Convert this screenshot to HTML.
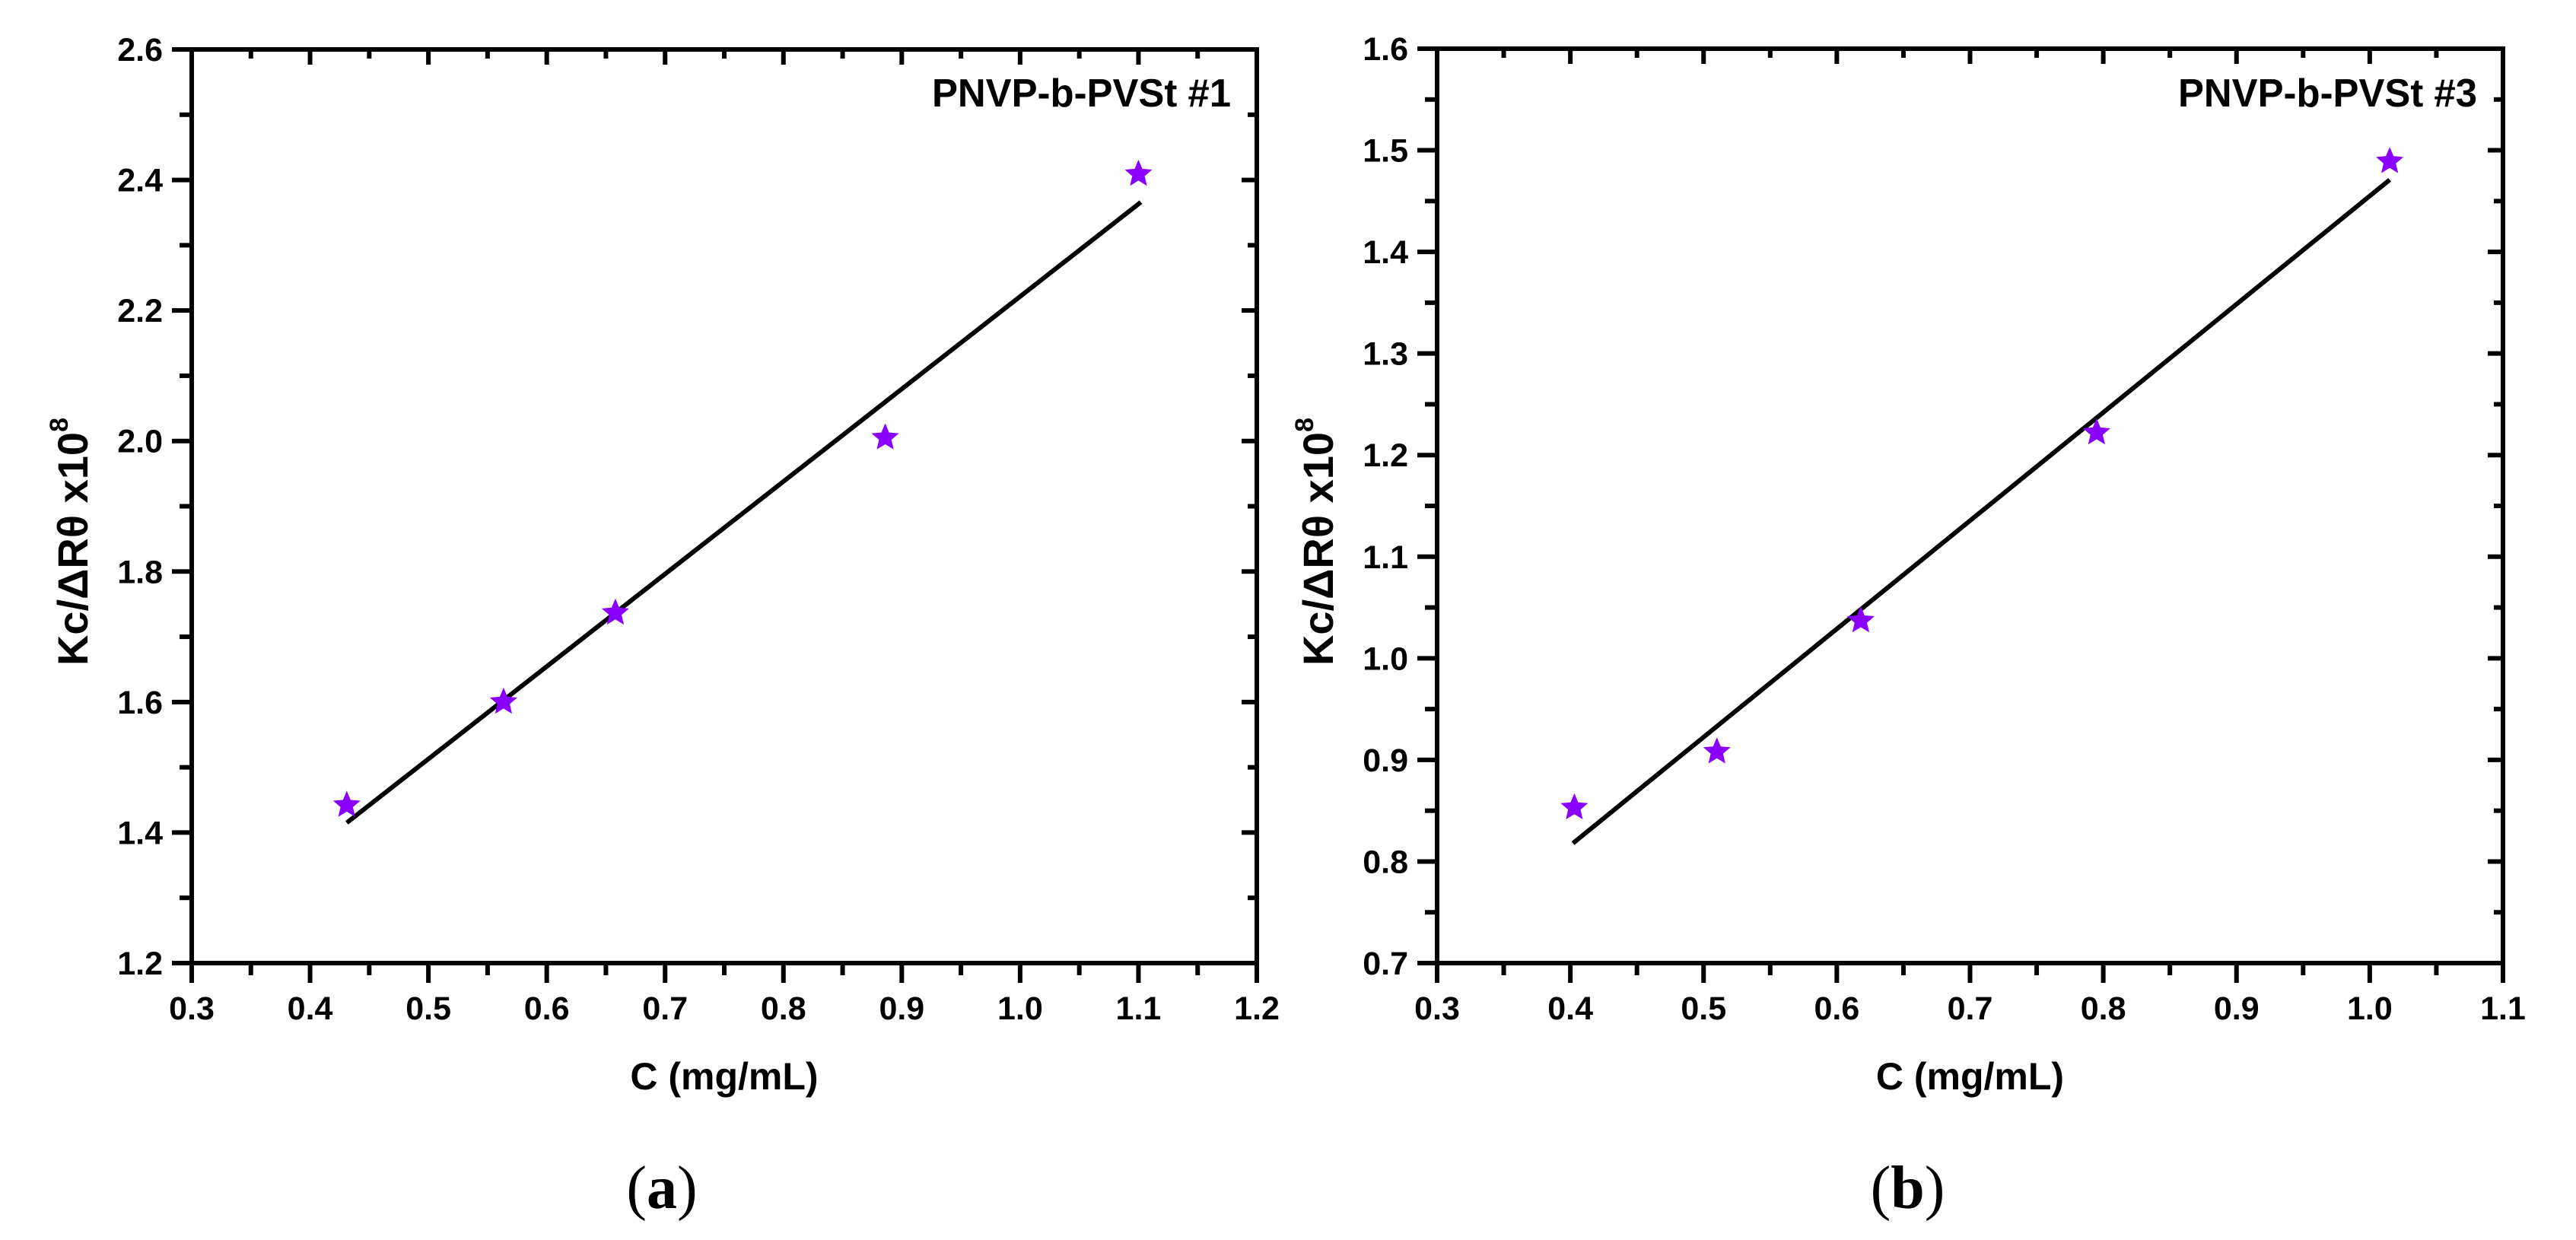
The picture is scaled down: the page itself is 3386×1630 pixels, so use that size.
<!DOCTYPE html>
<html><head><meta charset="utf-8"><style>
html,body{margin:0;padding:0;background:#fff;}
svg{display:block;}
</style></head><body>
<svg id="fig" width="3386" height="1630" viewBox="0 0 3386 1630" xmlns="http://www.w3.org/2000/svg" font-family="'Liberation Sans', Arial, sans-serif"></svg>
<script>
// Panel (a) data
const aX = [0.431, 0.5635, 0.658, 0.886, 1.100];
const aY = [1.442, 1.600, 1.7365, 2.005, 2.409];
const aFitX = [0.431, 1.102];
const aFitY = [1.415, 2.366];
const aXTicks = [0.3,0.4,0.5,0.6,0.7,0.8,0.9,1.0,1.1,1.2];
const aYTicks = [1.2,1.4,1.6,1.8,2.0,2.2,2.4,2.6];
// Panel (b) data
const bX = [0.403, 0.510, 0.618, 0.795, 1.015];
const bY = [0.853, 0.908, 1.037, 1.222, 1.489];
const bFitX = [0.402, 1.015];
const bFitY = [0.818, 1.471];
const bXTicks = [0.3,0.4,0.5,0.6,0.7,0.8,0.9,1.0,1.1];
const bYTicks = [0.7,0.8,0.9,1.0,1.1,1.2,1.3,1.4,1.5,1.6];

const NS = "http://www.w3.org/2000/svg";
const svg = document.getElementById('fig');
function mk(tag, attrs, parent){
  const e = document.createElementNS(NS, tag);
  for (const k in attrs) e.setAttribute(k, attrs[k]);
  (parent||svg).appendChild(e);
  return e;
}
function starPath(cx, cy, R){
  const r = R*0.45; let d='';
  for(let i=0;i<10;i++){
    const rad = i%2===0?R:r;
    const a = -Math.PI/2 + i*Math.PI/5;
    d += (i===0?'M':'L') + (cx+rad*Math.cos(a)).toFixed(1)+','+(cy+rad*Math.sin(a)).toFixed(1);
  }
  return d+'Z';
}
function panel(opt){
  const g = mk('g', {});
  
  
  const {L,R,T,B} = opt;
  const xs = v => L + (v-opt.xmin)/(opt.xmax-opt.xmin)*(R-L);
  const ys = v => B - (v-opt.ymin)/(opt.ymax-opt.ymin)*(B-T);
  const xt = opt.xTicks, yt = opt.yTicks;
  const xstep = xt[1]-xt[0], ystep = yt[1]-yt[0];
  for (let i=0;i<xt.length;i++){
    const x = xs(xt[i]);
    const t = mk('line',{x1:x,y1:B,x2:x,y2:B+26,stroke:'#000','stroke-width':6},g);
    
    
    mk('line',{x1:x,y1:T,x2:x,y2:T+20,stroke:'#000','stroke-width':6},g);
    const lb = mk('text',{x:x,y:1340,'font-size':43,'font-weight':'bold','text-anchor':'middle',fill:'#000'},g);
    lb.textContent = xt[i].toFixed(1);
    
    
    if (i<xt.length-1){
      const xm = xs(xt[i]+xstep/2);
      mk('line',{x1:xm,y1:B,x2:xm,y2:B+16,stroke:'#000','stroke-width':6},g);
      mk('line',{x1:xm,y1:T,x2:xm,y2:T+12,stroke:'#000','stroke-width':6},g);
    }
  }
  for (let i=0;i<yt.length;i++){
    const y = ys(yt[i]);
    const t = mk('line',{x1:L-26,y1:y,x2:L,y2:y,stroke:'#000','stroke-width':6},g);
    
    
    mk('line',{x1:R-20,y1:y,x2:R,y2:y,stroke:'#000','stroke-width':6},g);
    const lb = mk('text',{x:L-38,y:y+15,'font-size':43,'font-weight':'bold','text-anchor':'end',fill:'#000'},g);
    lb.textContent = yt[i].toFixed(1);
    
    
    if (i<yt.length-1){
      const ym = ys(yt[i]+ystep/2);
      mk('line',{x1:L-16,y1:ym,x2:L,y2:ym,stroke:'#000','stroke-width':6},g);
      mk('line',{x1:R-12,y1:ym,x2:R,y2:ym,stroke:'#000','stroke-width':6},g);
    }
  }
  const fr = mk('rect',{x:L,y:T,width:R-L,height:B-T,fill:'none',stroke:'#000','stroke-width':6},g);
  
  
  const fl = mk('line',{x1:xs(opt.fitX[0]),y1:ys(opt.fitY[0]),x2:xs(opt.fitX[1]),y2:ys(opt.fitY[1]),stroke:'#000','stroke-width':6},g);
  
  
  for (let i=0;i<opt.px.length;i++){
    const p = mk('path',{d:starPath(xs(opt.px[i]),ys(opt.py[i]),19),fill:'#8A00FF'},g);
    
    
  }
  const sl = mk('text',{x:R-34,y:140,'font-size':52,'font-weight':'bold','text-anchor':'end',fill:'#000',textLength:393,lengthAdjust:'spacingAndGlyphs'},g);
  sl.textContent = opt.label;
  
  
  const xtl = mk('text',{x:(L+R)/2,y:1432,'font-size':50,'font-weight':'bold','text-anchor':'middle',fill:'#000'},g);
  xtl.textContent = 'C (mg/mL)';
  
  
  const ytl = mk('text',{x:0,y:0,'font-size':56,'font-weight':'bold','text-anchor':'middle',fill:'#000',transform:`translate(${L-137},712) rotate(-90)`},g);
  
  
  ytl.appendChild(document.createTextNode('Kc/\u0394R\u03B8 x10'));
  const sup = mk('tspan',{dy:-26,'font-size':34},ytl);
  sup.textContent = '8';
  const pl = mk('text',{x:(L+R)/2-82,y:1588,'font-size':80,'text-anchor':'middle',fill:'#000','font-family':"'Liberation Serif', serif"},g);
  
  
  pl.appendChild(document.createTextNode('('));
  const b = mk('tspan',{'font-weight':'bold'},pl); b.textContent = opt.letter;
  pl.appendChild(document.createTextNode(')'));
}
panel({name:'panel-a',L:252,R:1652,T:65,B:1266,xmin:0.3,xmax:1.2,ymin:1.2,ymax:2.6,xTicks:aXTicks,yTicks:aYTicks,px:aX,py:aY,fitX:aFitX,fitY:aFitY,label:'PNVP-b-PVSt #1',letter:'a'});
panel({name:'panel-b',L:1889,R:3290,T:64,B:1266,xmin:0.3,xmax:1.1,ymin:0.7,ymax:1.6,xTicks:bXTicks,yTicks:bYTicks,px:bX,py:bY,fitX:bFitX,fitY:bFitY,label:'PNVP-b-PVSt #3',letter:'b'});
</script>
</body></html>
